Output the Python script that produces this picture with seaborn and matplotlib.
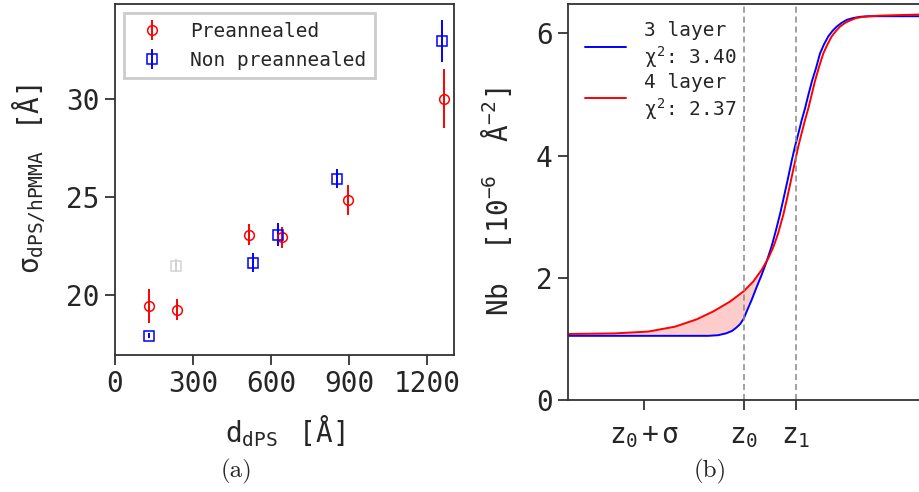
import numpy as np
import matplotlib
matplotlib.use("Agg")
import matplotlib.pyplot as plt
import seaborn as sns

# ---------------- data: panel (a) ----------------
pre_x = [131, 237, 516, 642, 896, 1267]
pre_y = [19.44, 19.27, 23.09, 22.96, 24.85, 30.02]
pre_err = [0.87, 0.55, 0.55, 0.54, 0.78, 1.50]

non_x = [131, 530, 627, 853, 1258]
non_y = [17.94, 21.66, 23.09, 25.95, 32.97]
non_err = [0.12, 0.48, 0.60, 0.48, 1.08]

outlier_x = [235]
outlier_y = [21.51]
outlier_err = [0.35]

a_xticks = [0, 300, 600, 900, 1200]
a_yticks = [20, 25, 30]

# ---------------- data: panel (b) ----------------
blue_z = [0, 140, 150, 158, 164, 168, 172, 175.7, 178.7, 183.7, 188.7, 193.7, 198.7,
          203.7, 208, 212, 216, 220.3, 223.5, 227, 230.5, 233.7, 237, 240, 244, 248,
          252, 256, 260.3, 264.5, 268.7, 273.5, 278.7, 285, 292, 300, 312, 357]
blue_nb = [1.05, 1.05, 1.06, 1.09, 1.13, 1.18, 1.24, 1.33, 1.45, 1.64, 1.85, 2.05, 2.27,
           2.52, 2.78, 3.04, 3.33, 3.65, 3.90, 4.15, 4.37, 4.58, 4.77, 4.97, 5.22, 5.43,
           5.67, 5.82, 5.95, 6.04, 6.11, 6.17, 6.22, 6.25, 6.27, 6.28, 6.28, 6.28]

red_z = [0, 47, 80.3, 107, 128.7, 145.3, 162, 175.7, 185.3, 193.7, 200.3, 205.3, 210,
         215.3, 219.5, 223.7, 227, 230.3, 233.7, 237, 240.3, 243.7, 247, 251, 255.3,
         259.5, 263.7, 268, 272, 277, 282, 288, 295.3, 312, 357]
red_nb = [1.08, 1.09, 1.12, 1.20, 1.32, 1.45, 1.61, 1.78, 1.94, 2.13, 2.32, 2.50, 2.72,
          3.03, 3.33, 3.65, 3.90, 4.15, 4.37, 4.58, 4.77, 5.00, 5.22, 5.45, 5.67,
          5.82, 5.95, 6.04, 6.11, 6.17, 6.21, 6.25, 6.27, 6.29, 6.31]

crossing_z = 201
b_tick_pos = [75.7, 175.7, 227.7]
b_tick_labels = [r'$z_0+\sigma$', r'$z_0$', r'$z_1$']
b_vlines = [175.7, 227.7]
b_yticks = [0, 2, 4, 6]

labels_b = ['3 layer\n' + r'$\chi^2$: 3.40', '4 layer\n' + r'$\chi^2$: 2.37']

# ---------------- style ----------------
sns.set_theme(style="ticks")
plt.rcParams['font.family'] = ['DejaVu Sans Mono']
plt.rcParams['mathtext.fontset'] = 'custom'
plt.rcParams['mathtext.rm'] = 'DejaVu Sans Mono'
plt.rcParams['mathtext.it'] = 'DejaVu Sans Mono'
plt.rcParams['mathtext.bf'] = 'DejaVu Sans Mono:bold'
plt.rcParams['axes.edgecolor'] = '#333333'
plt.rcParams['axes.linewidth'] = 1.3

W, H = 920, 492
fig = plt.figure(figsize=(W / 100, H / 100), dpi=100)

def px_axes(x0, y0, x1, y1):
    return fig.add_axes([x0 / W, 1 - y1 / H, (x1 - x0) / W, (y1 - y0) / H])

# ---------------- panel (a) ----------------
ax1 = px_axes(115, 4, 454, 355)
ax1.errorbar(pre_x, pre_y, yerr=pre_err, fmt='o', color='red', mfc='none',
             mec='red', ms=7, mew=1.1, elinewidth=1.4, capsize=0, label='Preannealed')
ax1.errorbar(non_x, non_y, yerr=non_err, fmt='s', color='blue', mfc='none',
             mec='blue', ms=7, mew=1.1, elinewidth=1.4, capsize=0, label='Non preannealed')
ax1.errorbar(outlier_x, outlier_y, yerr=outlier_err, fmt='s', color='#d3d3d3', mfc='none',
             mec='#d3d3d3', ms=7, mew=1.1, elinewidth=1.4, capsize=0)
ax1.set_xlim(0, 1304)
ax1.set_ylim(16.95, 34.86)
ax1.set_xticks(a_xticks)
ax1.set_yticks(a_yticks)
ax1.tick_params(axis='both', labelsize=20, length=7.5, width=1.3, color='#333333')
ax1.set_xlabel(r'$d_{\mathrm{dPS}}\;$ [Å]', fontsize=20, labelpad=11)
ax1.set_ylabel(r'$\sigma_{\mathrm{dPS/hPMMA}}\;$ [Å]', fontsize=20, labelpad=13)
leg1 = ax1.legend(loc='upper left', bbox_to_anchor=(0.0265, 0.974), borderaxespad=0,
                  fontsize=14, fancybox=False, framealpha=1, edgecolor='#cccccc',
                  handlelength=2.0, handletextpad=0.95, borderpad=0.45, labelspacing=0.5)
leg1.get_frame().set_linewidth(2)

# ---------------- panel (b) ----------------
ax2 = px_axes(568, 4, 925, 400)
poly_x = [z for z in red_z if z <= crossing_z] + [z for z in blue_z if z <= crossing_z][::-1]
poly_y = [v for z, v in zip(red_z, red_nb) if z <= crossing_z] + \
         [v for z, v in zip(blue_z, blue_nb) if z <= crossing_z][::-1]
ax2.fill(poly_x, poly_y, color='red', alpha=0.2, lw=0)
sns.lineplot(x=blue_z, y=blue_nb, ax=ax2, color='blue', lw=1.4, sort=False,
             estimator=None, label=labels_b[0])
sns.lineplot(x=red_z, y=red_nb, ax=ax2, color='red', lw=1.4, sort=False,
             estimator=None, label=labels_b[1])
for v in b_vlines:
    ax2.axvline(v, color='#888888', lw=1.1, ls='--', dashes=(4, 2.5))
ax2.set_xlim(0, 357)
ax2.set_ylim(0, 6.48)
ax2.set_xticks(b_tick_pos)
ax2.set_xticklabels(b_tick_labels)
ax2.set_yticks(b_yticks)
ax2.tick_params(axis='both', labelsize=20, length=7.5, width=1.3, color='#333333')
ax2.tick_params(axis='x', pad=8)
ax2.spines['right'].set_visible(False)
ax2.set_xlabel('')
ax2.set_ylabel(r'Nb  [10$^{-6}$  Å$^{-2}$]', fontsize=20, labelpad=15.5)
ax2.legend(loc='upper left', bbox_to_anchor=(0.0, 1.0), fontsize=14, frameon=False,
           handlelength=2.1, handletextpad=0.9, labelspacing=0.15)

# ---------------- sub-captions ----------------
fig.text(236.7 / W, 1 - 471.5 / H, '(a)', ha='center', va='center',
         fontsize=18, family=['cmr10', 'DejaVu Serif'])
fig.text(710 / W, 1 - 471.5 / H, '(b)', ha='center', va='center',
         fontsize=18, family=['cmr10', 'DejaVu Serif'])

fig.savefig('out.png', dpi=100)
